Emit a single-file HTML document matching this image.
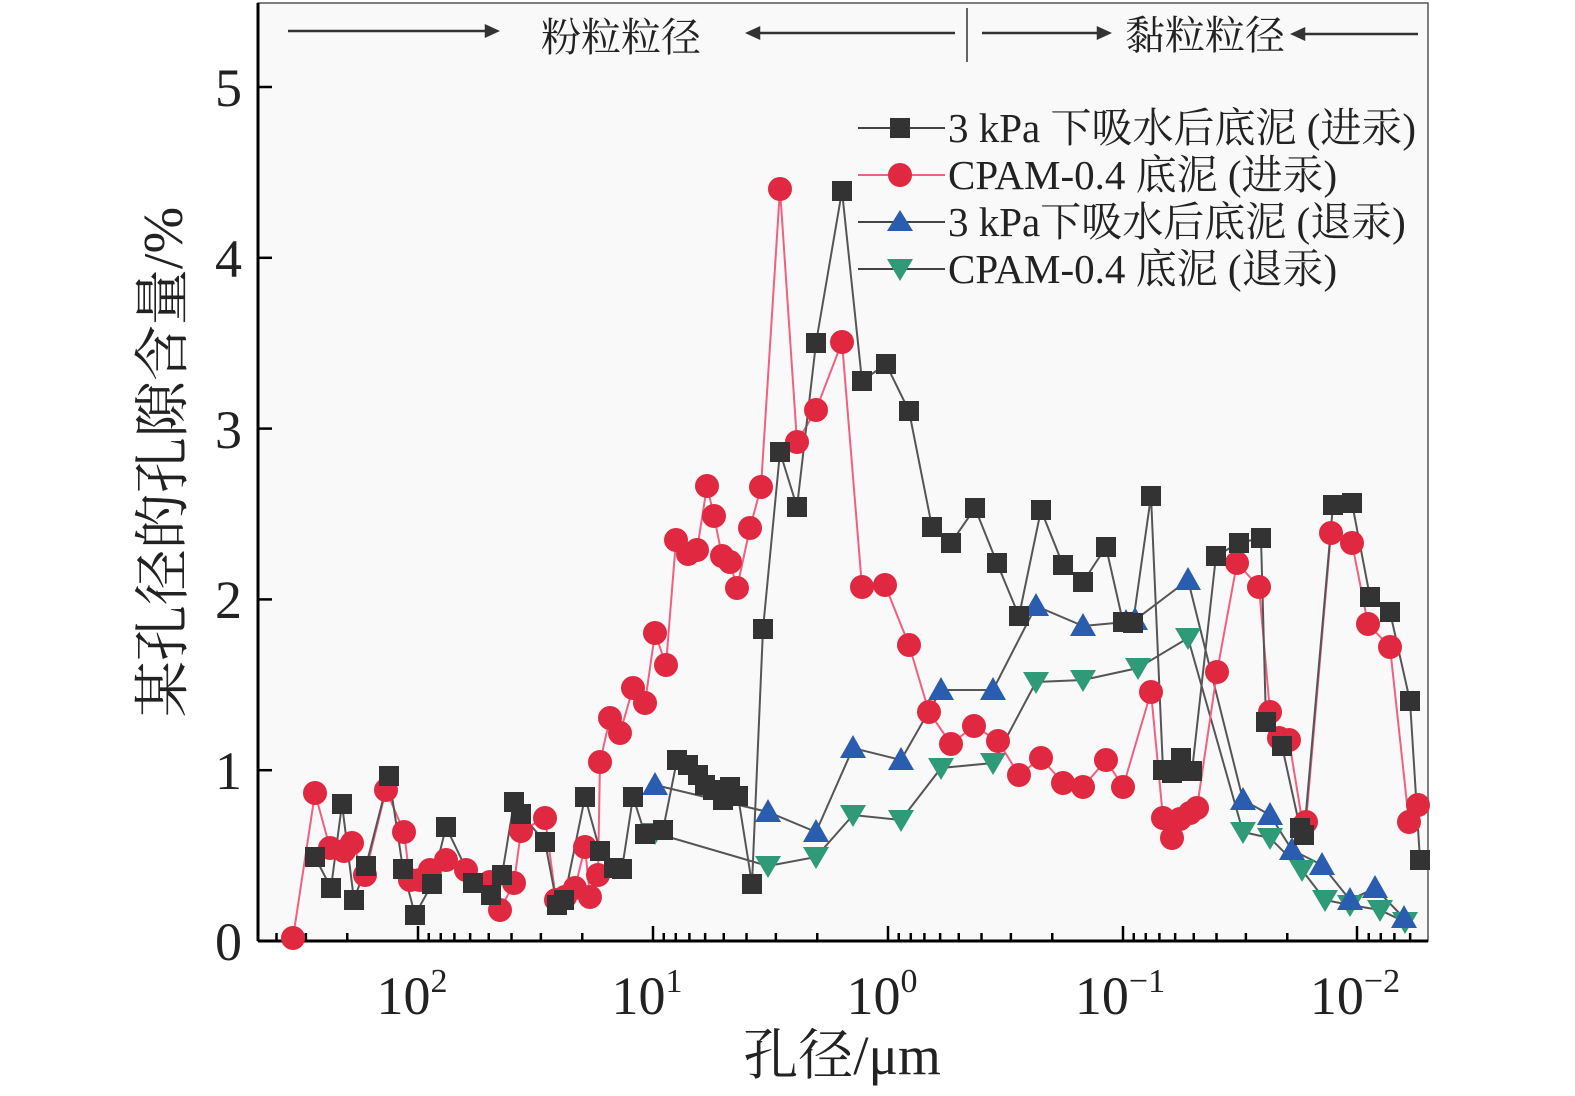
<!DOCTYPE html>
<html><head><meta charset="utf-8"><style>
html,body{margin:0;padding:0;background:#fff;}
svg{display:block;font-family:"Liberation Serif","Noto Serif CJK SC",serif;}
</style></head><body>
<svg id="s" width="1575" height="1096" viewBox="0 0 1575 1096" xmlns="http://www.w3.org/2000/svg">
<rect x="0" y="0" width="1575" height="1096" fill="#ffffff"/>
<rect x="258" y="3" width="1170" height="938" fill="#f9f9f9" stroke="#555" stroke-width="1.5"/>
<line x1="258" y1="3" x2="258" y2="941" stroke="#000" stroke-width="3"/>
<line x1="258" y1="941" x2="1428" y2="941" stroke="#000" stroke-width="3"/>
<g id="ticks" stroke="#000" stroke-width="2.5"></g>
<g font-size="54" fill="#222" text-anchor="end">
<text x="242" y="960">0</text><text x="242" y="789">1</text><text x="242" y="618">2</text>
<text x="242" y="448">3</text><text x="242" y="277">4</text><text x="242" y="106">5</text>
</g>
<g font-size="54" fill="#222" text-anchor="middle">
<text x="412" y="1014">10<tspan font-size="34" dy="-22">2</tspan></text>
<text x="647" y="1014">10<tspan font-size="34" dy="-22">1</tspan></text>
<text x="882" y="1014">10<tspan font-size="34" dy="-22">0</tspan></text>
<text x="1120" y="1014">10<tspan font-size="34" dy="-22">−1</tspan></text>
<text x="1355" y="1014">10<tspan font-size="34" dy="-22">−2</tspan></text>
</g>
<text x="842" y="1074" font-size="55" text-anchor="middle" fill="#222">孔径/μm</text>
<text transform="translate(182,462) rotate(-90)" font-size="56" text-anchor="middle" fill="#222">某孔径的孔隙含量/%</text>
<g stroke="#333" stroke-width="2.5" fill="#333">
<line x1="288" y1="31" x2="490" y2="31"/><polygon points="497,31 486,26 486,36"/>
<line x1="755" y1="33" x2="955" y2="33"/><polygon points="748,33 759,28 759,38"/>
<line x1="967" y1="8" x2="967" y2="62" stroke-width="1.5"/>
<line x1="982" y1="33" x2="1102" y2="33"/><polygon points="1109,33 1098,28 1098,38"/>
<line x1="1300" y1="34" x2="1418" y2="34"/><polygon points="1293,34 1304,29 1304,39"/>
</g>
<g font-size="40" fill="#222" text-anchor="middle">
<text x="621" y="51">粉粒粒径</text><text x="1205" y="49">黏粒粒径</text>
</g>
<g id="data"></g>
<g font-size="41" fill="#222">
<line x1="858" y1="128" x2="945" y2="128" stroke="#444" stroke-width="2"/><rect x="890" y="118" width="20" height="20" fill="#333"/>
<text x="948" y="142">3 kPa 下吸水后底泥 (进汞)</text>
<line x1="858" y1="175" x2="945" y2="175" stroke="#f06080" stroke-width="2"/><circle cx="900" cy="175" r="12" fill="#e02840"/>
<text x="948" y="189">CPAM-0.4 底泥 (进汞)</text>
<line x1="858" y1="222" x2="945" y2="222" stroke="#444" stroke-width="2"/><polygon points="900,210 913,231 887,231" fill="#2a5cb0"/>
<text x="948" y="236">3 kPa下吸水后底泥 (退汞)</text>
<line x1="858" y1="269" x2="945" y2="269" stroke="#444" stroke-width="2"/><polygon points="887,259 913,259 900,281" fill="#2e9a78"/>
<text x="948" y="283">CPAM-0.4 底泥 (退汞)</text>
</g>
</svg>
<script>
var NS="http://www.w3.org/2000/svg";
function el(t,a,p){var e=document.createElementNS(NS,t);for(var k in a)e.setAttribute(k,a[k]);p.appendChild(e);return e;}
var tk=document.getElementById('ticks');
var majors=[418,653,888,1123,1357];
for(var d=-1;d<5;d++){var base=418+235*d;
 for(var k=2;k<10;k++){var x=base+235*(1-Math.log10(k)); if(x<260||x>1426)continue;
  el('line',{x1:x,y1:941,x2:x,y2:933},tk);}}
majors.forEach(function(x){el('line',{x1:x,y1:941,x2:x,y2:926},tk);});
for(var i=0;i<=5;i++){var y=941-170.8*i;el('line',{x1:258,y1:y,x2:272,y2:y},tk);}
var g=document.getElementById('data');
function P(s){return s.trim().split(/\s+/).map(function(p){return p.split(',').map(Number);});}
var black=P("315,857 331,888 342,804 354,900 366,866 389,776 403,869 415,915 432,884 446,827 473,883 491,895 502,875 514,802 521,814 545,842 557,905 564,900 585,797 600,851 614,868 622,869 633,797 645,834 663,830 677,760 688,765 698,775 705,785 713,790 723,800 730,787 738,796 752,884 763,629 780,452 797,507 816,343 842,191 862,381 886,364 909,411 932,527 951,543 975,508 997,563 1019,616 1041,510 1063,565 1083,582 1106,547 1123,622 1133,623 1151,496 1163,770 1172,773 1181,758 1192,771 1216,556 1239,543 1261,538 1266,722 1282,746 1300,828 1304,835 1333,505 1352,503 1370,597 1390,612 1410,701 1420,860");
var red=P("293,938 315,793 330,848 344,851 352,843 365,875 386,790 404,832 410,880 420,880 430,870 446,860 466,870 490,882 500,910 514,883 521,831 545,818 556,900 565,897 575,888 585,847 590,897 598,875 600,762 610,718 620,733 633,688 645,703 655,633 666,665 676,540 688,554 697,550 707,486 714,516 722,556 730,562 737,588 750,528 761,487 780,189 797,442 816,410 842,342 862,587 885,585 909,645 929,712 951,744 974,726 998,741 1019,775 1041,758 1063,783 1083,787 1106,760 1123,787 1151,692 1163,818 1172,838 1180,819 1190,813 1197,808 1217,672 1237,563 1259,587 1270,712 1279,738 1289,740 1303,826 1306,822 1331,533 1352,543 1368,624 1390,647 1409,822 1418,805");
var blue=P("655,785 768,812 816,832 853,748 901,760 941,690 993,690 1036,606 1083,626 1126,622 1135,620 1188,580 1243,800 1270,815 1292,850 1322,865 1350,900 1375,888 1404,918");
var green=P("655,833 768,866 816,857 853,815 901,820 941,768 993,763 1036,682 1083,680 1138,668 1188,638 1243,832 1270,838 1302,870 1325,900 1350,905 1380,910 1405,922");
function line(pts,c){el('polyline',{points:pts.map(function(p){return p.join(',')}).join(' '),fill:'none',stroke:c,'stroke-width':2},g);}
line(green,'#555');line(blue,'#555');line(red,'#f06080');line(black,'#555');
green.forEach(function(p){el('polygon',{points:(p[0]-13)+','+(p[1]-10)+' '+(p[0]+13)+','+(p[1]-10)+' '+p[0]+','+(p[1]+12),fill:'#2e9a78'},g);});
blue.forEach(function(p){el('polygon',{points:p[0]+','+(p[1]-13)+' '+(p[0]+13)+','+(p[1]+10)+' '+(p[0]-13)+','+(p[1]+10),fill:'#2a5cb0'},g);});
red.forEach(function(p){el('circle',{cx:p[0],cy:p[1],r:12,fill:'#e02840'},g);});
black.forEach(function(p){el('rect',{x:p[0]-10,y:p[1]-10,width:20,height:20,fill:'#333'},g);});
</script>
</body></html>
